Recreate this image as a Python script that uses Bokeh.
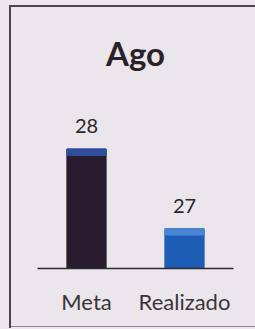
from bokeh.plotting import figure
from bokeh.models import ColumnDataSource, LabelSet, Range1d
from bokeh.core.properties import value
from bokeh.embed import file_html
from bokeh.resources import INLINE

title_text = "Ago"
categories = ["Meta", "Realizado"]
values = [28, 27]
bar_colors = ["#2a1c2f", "#1d5db5"]
top_colors = ["#2f4f9e", "#4a86d2"]

paper = "#ebe6ec"
ink = "#4a4548"

src = ColumnDataSource(dict(
    cat=categories,
    val=values,
    lbl=[str(v) for v in values],
    color=bar_colors,
    topc=top_colors,
    top_lo=[v - 0.08 for v in values],
))

p = figure(x_range=categories, y_range=Range1d(26.5, 28.535),
           width=255, height=329, output_backend="svg", toolbar_location=None,
           min_border_left=37, min_border_right=22, min_border_bottom=61,
           min_border_top=104)
p.background_fill_color = None
p.border_fill_color = None
p.outline_line_color = None
p.styles = {
    "background": (
        f"linear-gradient({ink},{ink}) 9px 5px / 2px 323px no-repeat, "
        f"linear-gradient({ink},{ink}) 9px 5px / 246px 2px no-repeat, "
        f"linear-gradient(#8a8589,#8a8589) 9px 326px / 246px 1px no-repeat, "
        f"{paper}"
    )
}

p.title.text = title_text
p.title.align = "center"
p.title.vertical_align = "top"
p.title.text_font = "Lato"
p.title.text_font_size = "33px"
p.title.text_font_style = "bold"
p.title.text_color = "#2b2228"
p.title.offset = 0
p.title.standoff = 64

p.vbar(x="cat", top="val", bottom=26.5, width=0.4, color="color", source=src)
p.vbar(x="cat", top="val", bottom="top_lo", width=0.4, color="topc", source=src)

labels = LabelSet(x="cat", y="val", text="lbl", source=src, text_align="center",
                  text_baseline="bottom", y_offset=16, text_font=value("Lato"),
                  text_font_size="20px", text_color="#2a2528")
p.add_layout(labels)

p.yaxis.visible = False
p.xgrid.visible = False
p.ygrid.visible = False
p.xaxis.axis_line_color = "#2f2a2d"
p.xaxis.axis_line_width = 1.5
p.xaxis.major_tick_line_color = None
p.xaxis.minor_tick_line_color = None
p.xaxis.major_label_text_font = "Lato"
p.xaxis.major_label_text_font_size = "22px"
p.xaxis.major_label_text_color = "#3a3538"
p.xaxis.major_label_standoff = 13
p.x_range.range_padding = 0.0

open("out.html", "w").write(file_html(p, INLINE))
